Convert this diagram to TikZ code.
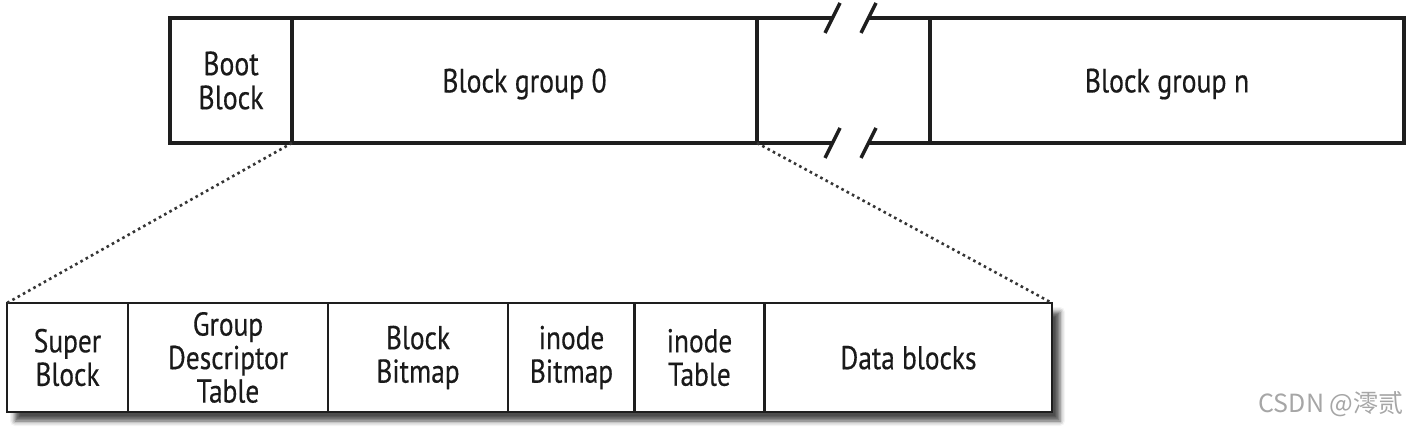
\documentclass[tikz,border=0pt]{standalone}
\usepackage{fontspec}
\setmainfont{PT Sans}[FakeStretch=0.83,FakeBold=0.35]
\newfontfamily\cjkfont{Noto Sans CJK SC}
\usetikzlibrary{shadows.blur,calc}
\definecolor{ink}{HTML}{1E1E1E}
\definecolor{txt}{HTML}{1A1A1A}
\tikzset{
  topcell/.style={draw=ink, line width=3.2pt, fill=white, inner sep=0pt, outer sep=0pt, align=center,
    font=\fontsize{33.5}{34}\selectfont, text=txt},
  botcell/.style={draw=ink, line width=2.4pt, fill=white, inner sep=0pt, outer sep=0pt, align=center,
    font=\fontsize{33}{33.5}\selectfont, text=txt, minimum height=109pt},
  topline/.style={draw=ink, line width=3.2pt},
  slash/.style={draw=ink, line width=3.4pt},
  zoomline/.style={draw=ink!90, line width=2.6pt, dash pattern=on 2.6pt off 3.4pt},
}
\begin{document}
\begin{tikzpicture}[x=1pt,y=-1pt]
\useasboundingbox (0,0) rectangle (1413,429);
% top bar
\node[topcell, minimum width=122pt, minimum height=125pt] (boot) at (231,80.5) {Boot\\Block};
\node[topcell, minimum width=465pt, minimum height=125pt, text depth=0pt] (bg0) at (524.5,80.5) {Block group 0};
\node[topcell, minimum width=474pt, minimum height=125pt, text depth=0pt] (bgn) at (1167,80.5) {Block group n};
\coordinate (s1t) at (832.5,18);
\coordinate (s2t) at (868.5,18);
\coordinate (s1b) at (832.5,143);
\coordinate (s2b) at (868.5,143);
\draw[topline] (bg0.north east) -- (s1t);
\draw[topline] (s2t) -- (bgn.north west);
\draw[topline] (bg0.south east) -- (s1b);
\draw[topline] (s2b) -- (bgn.south west);
\foreach \c in {s1t,s2t,s1b,s2b}{
  \draw[slash] ($(\c)+(-7.5,15)$) -- ($(\c)+(7.5,-15)$);
}
% bottom group shadow
\fill[black!75, blur shadow={shadow xshift=8pt, shadow yshift=-9pt, shadow blur radius=5pt, shadow opacity=70}]
  (7,303) rectangle (1052,412);
\node[botcell, minimum width=121pt] (sb) at (67.5,357.5) {Super\\Block};
\node[botcell, minimum width=200pt] (gdt) at (228,357.5) {Group\\Descriptor\\Table};
\node[botcell, minimum width=180pt] (bb) at (418,357.5) {Block\\Bitmap};
\node[botcell, minimum width=127pt] (ib) at (571.5,357.5) {inode\\Bitmap};
\node[botcell, minimum width=130pt] (it) at (699.5,357.5) {inode\\Table};
\node[botcell, minimum width=287pt, text depth=0pt] (db) at (908.5,357.5) {Data blocks};
% zoom lines
\draw[zoomline] (bg0.south west) -- (sb.north west);
\draw[zoomline] (bg0.south east) -- (db.north east);
% watermark
\node[text=black!35, font=\cjkfont\fontsize{25}{27}\selectfont, inner sep=0pt] (wm) at (1331,404) {CSDN @澪贰};
\end{tikzpicture}
\end{document}
